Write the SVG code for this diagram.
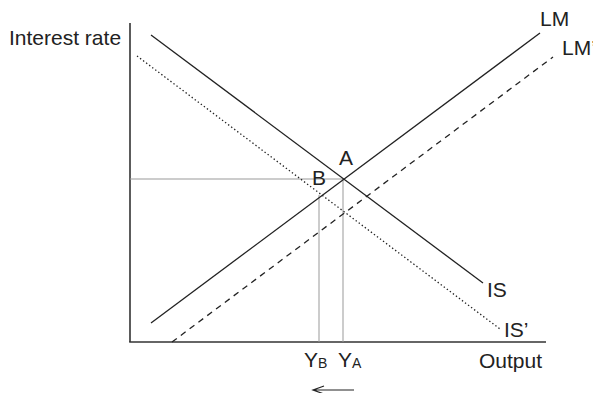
<svg xmlns="http://www.w3.org/2000/svg" width="593" height="393" viewBox="0 0 593 393">
<style>
.t{font-family:"Liberation Sans",Arial,sans-serif;font-size:21px;fill:#222}
.s{font-size:14px}
.ax{stroke:#333;stroke-width:1.6;fill:none}
.cv{stroke:#222;stroke-width:1.3;fill:none}
.gd{stroke:#999;stroke-width:1;fill:none}
</style>
<rect width="593" height="393" fill="#fff"/>
<g id="axes">
<line class="ax" x1="130" y1="23" x2="130" y2="342"/>
<line class="ax" x1="129.2" y1="342" x2="546" y2="342"/>
</g>
<g id="connectors">
<line class="gd" x1="130" y1="179" x2="343" y2="179"/>
<line class="gd" x1="343" y1="179" x2="343" y2="342"/>
<line class="gd" x1="319" y1="195" x2="319" y2="342"/>
<line id="IS" class="cv" x1="151" y1="35" x2="483" y2="283"/>
<line id="ISp" class="cv" x1="137" y1="56" x2="500" y2="329" stroke-dasharray="1.4 2.4"/>
<line id="LMl" class="cv" x1="151" y1="323" x2="540" y2="33"/>
<line id="LMp" class="cv" x1="172" y1="342" x2="553" y2="57" stroke-dasharray="6 5"/>
<path d="M354,390 H313 M324,386 L313,390 L324,394" fill="none" stroke="#222" stroke-width="1.2"/>
</g>
<g id="labels">
<text class="t" x="9" y="45">Interest rate</text>
<text class="t" x="540" y="26">LM</text>
<text class="t" x="562" y="55">LM’</text>
<text class="t" x="339" y="165">A</text>
<text class="t" x="312" y="185">B</text>
<text class="t" x="487" y="297">IS</text>
<text class="t" x="504" y="337">IS’</text>
<text class="t" x="304" y="367">Y<tspan class="s" dy="1">B</tspan></text>
<text class="t" x="338" y="367">Y<tspan class="s" dy="1">A</tspan></text>
<text class="t" x="479" y="368">Output</text>
</g>
</svg>
